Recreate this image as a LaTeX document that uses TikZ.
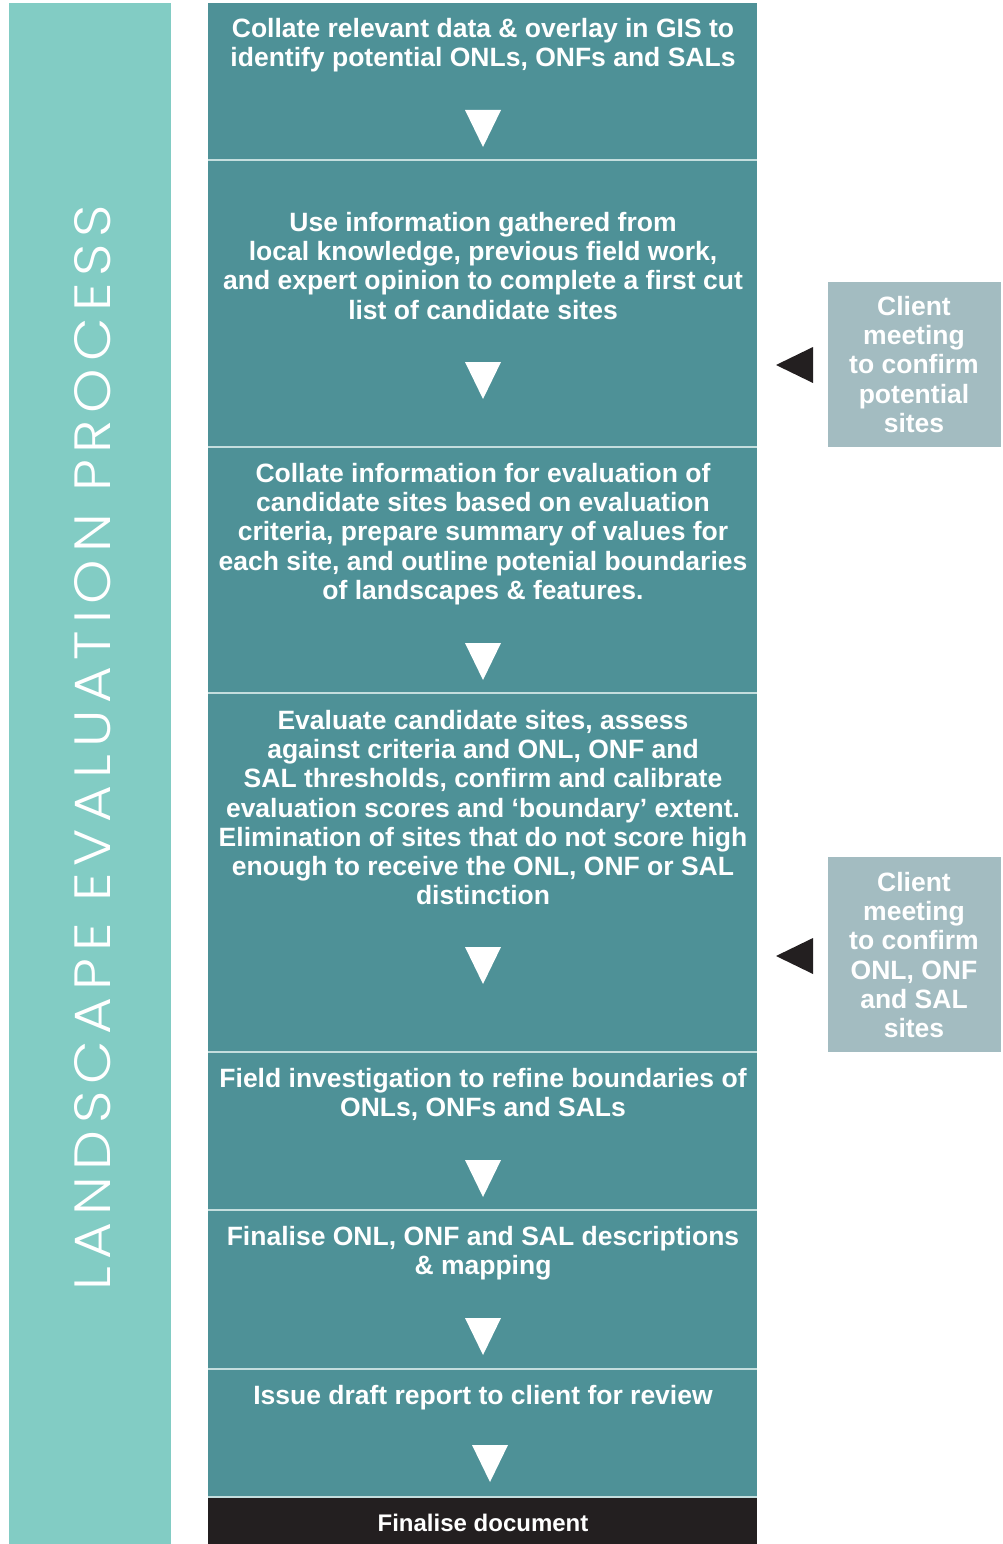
\documentclass[tikz,border=0pt]{standalone}
\usepackage{fontspec}
\setmainfont{Liberation Sans}
% thin face for the vertical heading, with a safe fallback
\IfFontExistsTF{Poppins Light}
  {\newfontfamily\titlefont{Poppins Light}[LetterSpace=12]}
  {\IfFontExistsTF{Lato Light}
    {\newfontfamily\titlefont{Lato Light}[LetterSpace=12]}
    {\newfontfamily\titlefont{Liberation Sans}[LetterSpace=8]}}
\definecolor{stagefill}{RGB}{78,145,151}
\definecolor{barfill}{RGB}{130,204,196}
\definecolor{sidefill}{RGB}{163,188,193}
\definecolor{darkfill}{RGB}{35,31,32}
\definecolor{sepline}{RGB}{196,222,222}
\begin{document}
\begin{tikzpicture}[x=1pt,y=-1pt,
  stagebox/.style={draw=none,fill=stagefill,minimum width=549pt,inner sep=0pt,anchor=north west},
  sidebox/.style={draw=none,fill=sidefill,minimum width=173pt,inner sep=0pt,anchor=north west},
  stagetext/.style={text=white,align=center,inner sep=0pt,anchor=north,
    font=\bfseries\fontsize{26.5}{29.3}\selectfont},
  sidetext/.style={stagetext},
  sep/.style={draw=sepline,line width=2pt},
  downtri/.pic={\fill[white] (-18,0) -- (18,0) -- (0,37) -- cycle;},
  lefttri/.pic={\fill[darkfill] (0,0) -- (37,-18) -- (37,18) -- cycle;}
]
\useasboundingbox (0,0) rectangle (1002,1544);

% title bar
\node[fill=barfill,minimum width=162pt,minimum height=1541pt,inner sep=0pt,anchor=north west] (bar) at (9,3) {};
\node[rotate=90,text=white,inner sep=0pt] (title) at (93,747.5)
  {\resizebox{1085pt}{36pt}{\titlefont LANDSCAPE EVALUATION PROCESS}};

% process stages
\node[stagebox,minimum height=157pt] (s1) at (208,3) {};
\node[stagebox,minimum height=287pt] (s2) at (208,160) {};
\node[stagebox,minimum height=246pt] (s3) at (208,447) {};
\node[stagebox,minimum height=359pt] (s4) at (208,693) {};
\node[stagebox,minimum height=158pt] (s5) at (208,1052) {};
\node[stagebox,minimum height=159pt] (s6) at (208,1210) {};
\node[stagebox,minimum height=128pt] (s7) at (208,1369) {};
\node[stagebox,fill=darkfill,minimum height=47pt] (s8) at (208,1497) {};

\foreach \n in {s1,s2,s3,s4,s5,s6,s7}
  \draw[sep] (\n.south west) -- (\n.south east);

\node[stagetext] (t1) at (483,17.7) {Collate relevant data \& overlay in GIS to\\identify potential ONLs, ONFs and SALs};
\node[stagetext] (t2) at (483,211.7) {Use information gathered from\\local knowledge, previous field work,\\and expert opinion to complete a first cut\\list of candidate sites};
\node[stagetext] (t3) at (483,462.7) {Collate information for evaluation of\\candidate sites based on evaluation\\criteria, prepare summary of values for\\each site, and outline potenial boundaries\\of landscapes \& features.};
\node[stagetext] (t4) at (483,709.7) {Evaluate candidate sites, assess\\against criteria and ONL, ONF and\\SAL thresholds, confirm and calibrate\\evaluation scores and ‘boundary’ extent.\\Elimination of sites that do not score high\\enough to receive the ONL, ONF or SAL\\distinction};
\node[stagetext] (t5) at (483,1067.7) {Field investigation to refine boundaries of\\ONLs, ONFs and SALs};
\node[stagetext] (t6) at (483,1225.7) {Finalise ONL, ONF and SAL descriptions\\\& mapping};
\node[stagetext] (t7) at (483,1384.7) {Issue draft report to client for review};
\node[stagetext,anchor=center,font=\bfseries\fontsize{24}{28}\selectfont] (t8) at (483,1522.5) {Finalise document};

% flow markers
\pic at (483,110) {downtri};
\pic at (483,362) {downtri};
\pic at (483,643) {downtri};
\pic at (483,947) {downtri};
\pic at (483,1160) {downtri};
\pic at (483,1318) {downtri};
\pic at (490,1445) {downtri};

% client meetings
\node[sidebox,minimum height=165pt] (c1) at (828,282) {};
\node[sidebox,minimum height=195pt] (c2) at (828,857) {};
\node[sidetext] (ct1) at (914,295.7) {Client\\meeting\\to confirm\\potential\\sites};
\node[sidetext] (ct2) at (914,871.7) {Client\\meeting\\to confirm\\ONL, ONF\\and SAL\\sites};
\pic at (776,365) {lefttri};
\pic at (776,956) {lefttri};
\end{tikzpicture}
\end{document}
